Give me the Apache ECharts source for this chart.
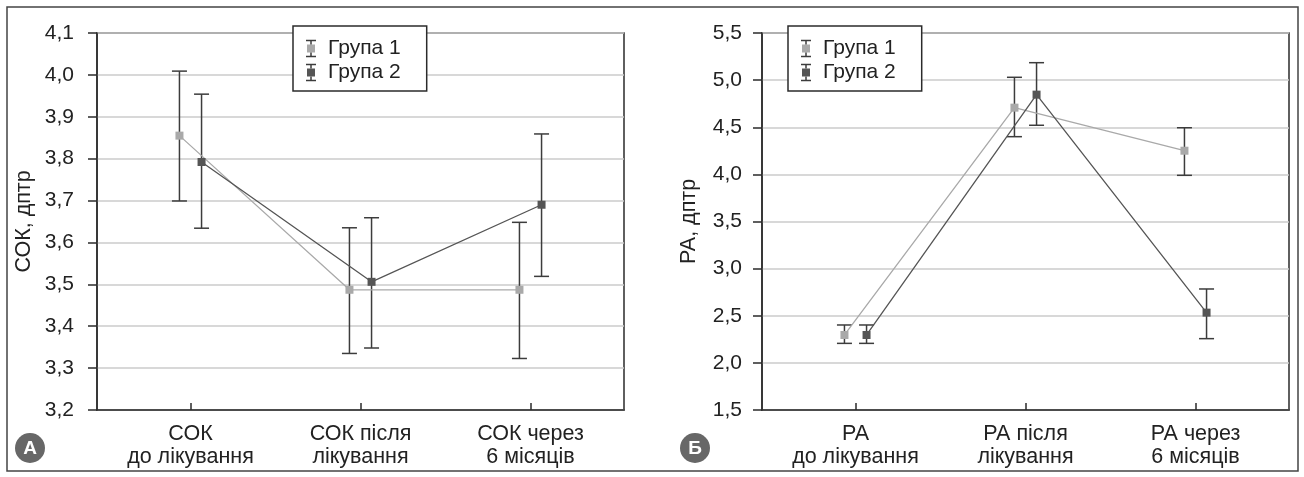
<!DOCTYPE html>
<html>
<head>
<meta charset="utf-8">
<script src="https://cdn.jsdelivr.net/npm/echarts@6/dist/echarts.min.js"></script>
<style>
  html, body { margin: 0; padding: 0; background: #fff; }
  #chart { width: 1304px; height: 477px; }
</style>
</head>
<body>
<div id="chart"></div>
<script>
    /* ---------- data ---------- */
    var catsCok = ['СОК\nдо лікування', 'СОК після\nлікування', 'СОК через\n6 місяців'];
    var catsRa = ['РА\nдо лікування', 'РА після\nлікування', 'РА через\n6 місяців'];

    var cokG1 = [3.855, 3.487, 3.487];
    var cokG1Low = [3.699, 3.335, 3.323];
    var cokG1High = [4.009, 3.635, 3.648];
    var cokG2 = [3.792, 3.506, 3.690];
    var cokG2Low = [3.634, 3.348, 3.519];
    var cokG2High = [3.954, 3.659, 3.859];

    var raG1 = [2.296, 4.708, 4.251];
    var raG1Low = [2.207, 4.400, 3.990];
    var raG1High = [2.402, 5.030, 4.495];
    var raG2 = [2.296, 4.846, 2.533];
    var raG2Low = [2.207, 4.521, 2.257];
    var raG2High = [2.402, 5.185, 2.784];

    var cokTicks = [3.2, 4.1, 0.1];   // min, max, step
    var raTicks = [1.5, 5.5, 0.5];

    /* ---------- styles ---------- */
    var FONT = '"Liberation Sans", Arial, sans-serif';
    var C1 = '#a9a9a9', C2 = '#555555', BAR = '#3c3c3c', AXIS = '#2b2b2b';
    var shift = 0.065;   // horizontal offset of each group around a category

    function comma(v) { return v.toFixed(1).replace('.', ','); }

    function pts(vals, dx) {
        return vals.map(function (v, i) { return [i + 1 + dx, v]; });
    }
    function bars(low, high, dx) {
        return low.map(function (v, i) { return [i + 1 + dx, v, high[i]]; });
    }

    function errorBar(params, api) {
        var x = api.value(0);
        var a = api.coord([x, api.value(1)]);
        var b = api.coord([x, api.value(2)]);
        var hw = 7.5;
        var st = { stroke: BAR, lineWidth: 1.5 };
        return {
            type: 'group',
            children: [
                { type: 'line', shape: { x1: a[0], y1: a[1], x2: b[0], y2: b[1] }, style: st },
                { type: 'line', shape: { x1: a[0] - hw, y1: a[1], x2: a[0] + hw, y2: a[1] }, style: st },
                { type: 'line', shape: { x1: b[0] - hw, y1: b[1], x2: b[0] + hw, y2: b[1] }, style: st }
            ]
        };
    }

    function xAxis(idx, cats) {
        return {
            type: 'value', gridIndex: idx, min: 0.45, max: 3.55,
            axisLine: { lineStyle: { color: AXIS, width: 1.5 } },
            axisTick: { inside: true, length: 7, customValues: [1, 2, 3], lineStyle: { color: AXIS, width: 1.5 } },
            axisLabel: {
                customValues: [1, 2, 3], margin: 13,
                fontSize: 21.5, lineHeight: 23, color: '#222', fontFamily: FONT,
                formatter: function (v) { return cats[Math.round(v) - 1]; }
            },
            splitLine: { show: false }
        };
    }

    function yAxis(idx, t, name, margin) {
        return {
            type: 'value', gridIndex: idx, min: t[0], max: t[1], interval: t[2],
            name: name, nameLocation: 'middle', nameGap: 62,
            nameTextStyle: { fontSize: 21.5, color: '#222', fontFamily: FONT },
            axisLine: { show: true, lineStyle: { color: AXIS, width: 1.5 } },
            axisTick: { show: true, length: 9, lineStyle: { color: AXIS, width: 1.5 } },
            axisLabel: { margin: margin, fontSize: 21, color: '#222', fontFamily: FONT, formatter: comma },
            splitLine: { lineStyle: { color: '#cbcbcb', width: 1.5 } }
        };
    }

    function lineSeries(name, idx, vals, dx, color) {
        return {
            name: name, type: 'line', xAxisIndex: idx, yAxisIndex: idx,
            data: pts(vals, dx), symbol: 'rect', symbolSize: 8, z: 4,
            itemStyle: { color: color },
            lineStyle: { color: color, width: 1.3 }
        };
    }

    function barSeries(idx, low, high, dx) {
        return {
            type: 'custom', xAxisIndex: idx, yAxisIndex: idx, z: 3,
            renderItem: errorBar, data: bars(low, high, dx)
        };
    }

    function legend(left) {
        return {
            left: left, top: 26, orient: 'vertical',
            data: ['Група 1', 'Група 2'], icon: 'rect',
            itemWidth: 8, itemHeight: 8, itemGap: 3,
            padding: [12, 26, 8, 14],
            backgroundColor: '#fff', borderColor: AXIS, borderWidth: 1.5, borderRadius: 0,
            textStyle: { fontSize: 21, lineHeight: 21, color: '#222', fontFamily: FONT, padding: [0, 0, 0, 8] }
        };
    }

    // I-beam marks behind the legend squares
    function legendBeams(cx) {
        var out = [];
        [48.5, 72.5].forEach(function (cy) {
            var st = { stroke: BAR, lineWidth: 1.5 };
            out.push({ type: 'line', z: 10, shape: { x1: cx, y1: cy - 8, x2: cx, y2: cy - 4 }, style: st });
            out.push({ type: 'line', z: 10, shape: { x1: cx, y1: cy + 4, x2: cx, y2: cy + 8 }, style: st });
            out.push({ type: 'line', z: 10, shape: { x1: cx - 5, y1: cy - 8, x2: cx + 5, y2: cy - 8 }, style: st });
            out.push({ type: 'line', z: 10, shape: { x1: cx - 5, y1: cy + 8, x2: cx + 5, y2: cy + 8 }, style: st });
        });
        return out;
    }

    function badge(cx, letter) {
        return {
            type: 'group', z: 10,
            children: [
                { type: 'circle', shape: { cx: cx, cy: 448, r: 15 }, style: { fill: '#676767' } },
                { type: 'text', x: cx, y: 449, style: { text: letter, fill: '#fff', font: 'bold 19px ' + FONT, align: 'center', verticalAlign: 'middle' } }
            ]
        };
    }

    var chart = echarts.init(document.getElementById('chart'));
    var option = {
        animation: false,
        grid: [
            { left: 97, top: 33, width: 527, height: 377, show: true, borderColor: AXIS, borderWidth: 1.5 },
            { left: 762, top: 33, width: 527, height: 377, show: true, borderColor: AXIS, borderWidth: 1.5 }
        ],
        xAxis: [xAxis(0, catsCok), xAxis(1, catsRa)],
        yAxis: [yAxis(0, cokTicks, 'СОК, дптр', 23), yAxis(1, raTicks, 'РА, дптр', 20)],
        legend: [legend(293), legend(788)],
        series: [
            barSeries(0, cokG1Low, cokG1High, -shift),
            barSeries(0, cokG2Low, cokG2High, shift),
            lineSeries('Група 1', 0, cokG1, -shift, C1),
            lineSeries('Група 2', 0, cokG2, shift, C2),
            barSeries(1, raG1Low, raG1High, -shift),
            barSeries(1, raG2Low, raG2High, shift),
            lineSeries('Група 1', 1, raG1, -shift, C1),
            lineSeries('Група 2', 1, raG2, shift, C2)
        ],
        graphic: [
            { type: 'rect', z: 0, shape: { x: 7, y: 7, width: 1291, height: 464 }, style: { fill: 'none', stroke: '#444', lineWidth: 1.5 } },
            badge(30, 'А'),
            badge(695, 'Б')
        ].concat(legendBeams(311), legendBeams(806))
    };
    chart.setOption(option);
</script>
</body>
</html>
